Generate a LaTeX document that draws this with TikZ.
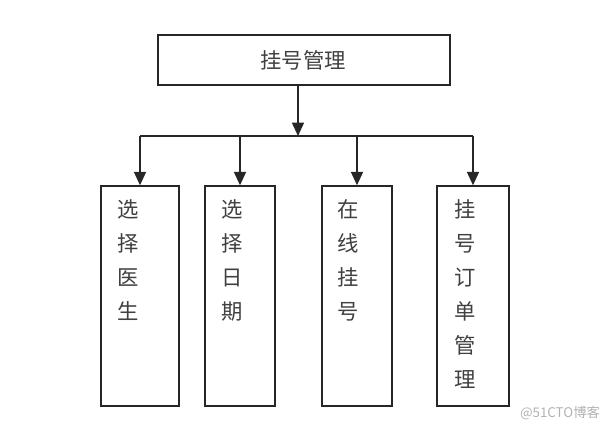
\documentclass[tikz,border=0pt]{standalone}
\usepackage{fontspec}
\newfontfamily\cjk{Noto Sans CJK SC}
\usetikzlibrary{arrows.meta}
\tikzset{
	box/.style={draw=black!85, line width=1.1pt, fill=white},
	txt/.style={font=\cjk\fontsize{16}{25.5}\selectfont, text=black!75, align=center, inner sep=0pt},
	arr/.style={draw=black!85, line width=1.1pt, -{Triangle[length=10pt,width=9pt]}}
}

\begin{document}
\begin{tikzpicture}[x=0.75pt,y=-0.75pt]
			%%%%% START %%%%%
			\useasboundingbox (0,0) rectangle (612,431);
			
			\node[box, minimum width=219pt, minimum height=37.5pt] (top) at (304,60) {};
			\node[txt] (toptxt) at (303,60) {挂号管理};
			
			\coordinate (split) at (298,136);
			
			\node[box, minimum width=58.5pt, minimum height=165pt] (b1) at (140,296) {};
			\node[box, minimum width=52.5pt, minimum height=165pt] (b2) at (240,296) {};
			\node[box, minimum width=52.5pt, minimum height=165pt] (b3) at (357,296) {};
			\node[box, minimum width=54pt, minimum height=165pt] (b4) at (473,296) {};
			
			\node[txt, anchor=north] (t1) at (128,199) {选\\择\\医\\生};
			\node[txt, anchor=north] (t2) at (232,199) {选\\择\\日\\期};
			\node[txt, anchor=north] (t3) at (348,199) {在\\线\\挂\\号};
			\node[txt, anchor=north] (t4) at (465,199) {挂\\号\\订\\单\\管\\理};
			
			\draw[arr] (top.south -| split) -- (split);
			\draw[draw=black!85, line width=1.1pt] (b1.north |- split) -- (b4.north |- split);
			\draw[arr] (b1.north |- split) -- (b1.north);
			\draw[arr] (b2.north |- split) -- (b2.north);
			\draw[arr] (b3.north |- split) -- (b3.north);
			\draw[arr] (b4.north |- split) -- (b4.north);
			
			\node[font=\cjk\fontsize{10}{12}\selectfont, text=black!30] (mark) at (560,413) {@51CTO博客};
			%%%%% END %%%%%
\end{tikzpicture}
\end{document}
